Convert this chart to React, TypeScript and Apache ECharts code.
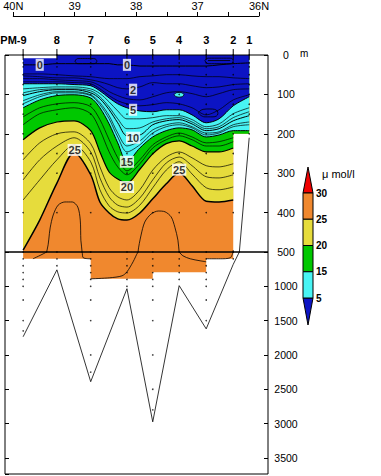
import React, { useEffect, useRef } from 'react';
import * as echarts from 'echarts';

// ---------------- data ----------------
const STATIONS = ['PM-9', '8', '7', '6', '5', '4', '3', '2', '1'];
const STATION_LAT = [39.84, 39.29, 38.74, 38.15, 37.73, 37.3, 36.86, 36.42, 36.16];
const BOTTOM_DEPTH = [1735, 760, 2390, 1035, 2975, 990, 1620, 680, 210];
const SAMPLE_MAX = [1500, 700, 2000, 1000, 2500, 900, 1500, 600, 200];
const NEAR_BOTTOM = [1650, null, 2250, null, 2800, null, null, null, null];
const STD_DEPTHS = [0, 10, 20, 30, 50, 75, 100, 125, 150, 200, 250, 300, 400, 500, 600, 700, 800, 900, 1000, 1200, 1500, 2000, 2500];

const LAT_TICK_VALUES = [36, 37, 38, 39, 40];
const LAT_TICK_TEXT = ['36N', '37', '38', '39', '40N'];

// contour nodes (latitude) and contour depths (m) at each node
const NODE_LAT = [39.84, 39.57, 39.29, 39.01, 38.74, 38.59, 38.44, 38.3, 38.15, 37.94, 37.73, 37.51, 37.3, 37.09, 36.86, 36.65, 36.42, 36.16];
const C0 = [25, 25, 22, 22, 22, 22, 22, 25, 25, 28, 28, 28, 28, 28, 28, 25, 22, 20];
const C1 = [48, 48, 50, 53, 55, 58, 60, 60, 60, 55, 53, 50, 50, 53, 55, 55, 58, 60];
const C2 = [53, 55, 58, 58, 63, 68, 75, 83, 86, 81, 70, 73, 73, 78, 83, 81, 75, 73];
const C3 = [60, 60, 63, 65, 68, 78, 93, 103, 111, 114, 106, 96, 93, 98, 106, 98, 88, 86];
const C4 = [68, 68, 68, 70, 73, 86, 103, 116, 124, 129, 126, 121, 124, 134, 152, 139, 114, 101];
const C5 = [73, 73, 73, 75, 78, 91, 109, 124, 134, 142, 144, 139, 139, 152, 172, 162, 129, 106];
const C7 = [86, 83, 81, 81, 86, 98, 119, 142, 162, 162, 159, 154, 154, 164, 182, 175, 149, 134];
const C9 = [96, 88, 86, 86, 91, 106, 132, 162, 187, 185, 170, 162, 159, 170, 187, 182, 159, 144];
const C10 = [103, 93, 88, 88, 96, 111, 139, 172, 205, 203, 177, 167, 164, 175, 192, 187, 167, 154];
const C12 = [116, 101, 93, 93, 101, 121, 154, 198, 231, 218, 190, 177, 172, 182, 198, 195, 177, 170];
const C13 = [124, 106, 96, 96, 103, 126, 162, 208, 246, 228, 198, 182, 177, 185, 203, 198, 182, 177];
const C15 = [134, 114, 103, 101, 109, 134, 175, 223, 271, 236, 208, 192, 185, 190, 208, 203, 192, 192];
const C17 = [157, 134, 124, 121, 131, 164, 215, 261, 294, 266, 228, 208, 198, 208, 223, 220, 210, null];
const C18 = [177, 149, 139, 134, 149, 190, 246, 284, 304, 276, 236, 215, 205, 215, 231, 231, 220, null];
const C20 = [215, 185, 170, 167, 192, 246, 297, 315, 325, 290, 251, 225, 218, 231, 246, 246, 236, null];
const C22 = [266, 223, 200, 195, 225, 284, 337, 360, 368, 342, 292, 259, 246, 261, 281, 284, 276, null];
const C23 = [317, 266, 231, 210, 246, 312, 360, 381, 386, 363, 317, 274, 259, 281, 309, 312, 304, null];
const C24 = [368, 317, 266, 228, 271, 342, 383, 398, 401, 381, 337, 292, 271, 302, 337, 342, 335, null];
const C25 = [495, 419, 325, 248, 304, 373, 401, 416, 419, 401, 365, 327, 299, 332, 371, 373, 368, null];

// 26 umol/l contour pieces [lat, depth]
const C26_A = [[39.68, 599], [39.45, 495], [39.4, 439], [39.35, 406], [39.27, 381], [39.16, 373], [39.04, 373], [38.95, 386], [38.91, 419], [38.9, 470], [38.88, 500], [38.86, 585], [38.74, 599]];
const C26_B = [[38.74, 891], [38.43, 876], [38.23, 847], [38.15, 789], [38.05, 643], [37.97, 500], [37.92, 457], [37.86, 424], [37.76, 404], [37.64, 396], [37.53, 398], [37.43, 411], [37.37, 437], [37.32, 470], [37.3, 500], [37.24, 555], [37.12, 599], [36.96, 628], [36.86, 643]];
const C26_C = [[36.86, 599], [36.63, 599], [36.47, 585], [36.42, 495]];

// closed small contours
const EYE = [[37.384, 101], [37.352, 96], [37.3, 95], [37.25, 96], [37.22, 101], [37.25, 106], [37.3, 107], [37.352, 106], [37.384, 101]];
const LOOP_C = [[36.99, 147], [36.91, 138], [36.8, 137], [36.68, 142], [36.67, 149], [36.75, 157], [36.88, 157], [36.99, 147]];
const LOOP_A = [[38.995, 16], [38.95, 9], [38.69, 9], [38.64, 16], [38.69, 22], [38.95, 22], [38.995, 16]];
const LOOP_B = [[36.88, 14], [36.83, 8], [36.47, 8], [36.42, 14], [36.47, 22], [36.83, 22], [36.88, 14]];
const LOOP_B_IN = [[36.83, 14], [36.47, 14]];

// data region outlines [lat, depth]
const REGION_UPPER = [[39.84, 8], [39.29, 8], [39.29, 0], [36.16, 0], [36.16, 200], [36.42, 200], [36.42, 500], [39.84, 500]];
const REGION_LOWER = [[39.84, 500], [36.42, 500], [36.42, 600], [36.86, 600], [36.86, 795], [37.73, 795], [37.73, 890], [38.74, 890], [38.74, 600], [39.84, 600]];
const SHELF = [[36.42, 0], [36.16, 0], [36.16, 200], [36.42, 200]];
const TOP_GAP = [[39.84, 0], [39.29, 0], [39.29, 8], [39.84, 8]];

// contour labels
const CLABEL_LAT = [39.57, 38.15, 38.05, 38.05, 38.05, 38.15, 38.15, 39.0, 37.3];
const CLABEL_DEPTH = [25, 25, 88, 139, 210, 271, 335, 241, 291];
const CLABEL_TEXT = ['0', '0', '2', '5', '10', '15', '20', '25', '25'];

// legend
const LEGEND_LEVELS = [30, 25, 20, 15, 5];
const BLUE = '#0c14c4';
const CYAN = '#48f4f4';
const GREEN = '#00c800';
const YELLOW = '#e6dc3c';
const ORANGE = '#f0882e';
const RED = '#f00000';
const LEGEND_FILLS = [ORANGE, YELLOW, GREEN, CYAN];

// ---------------- chart ----------------
const FONT = 'Liberation Sans';
const X_MIN = 35.854;
const X_MAX = 40.135;
const SMOOTH = 0.3;

const pts = (arr: (number | null)[]) =>
  NODE_LAT.map((x, i) => [x, arr[i]]).filter((p) => p[1] != null) as number[][];

function polygon(points: number[][], fill: string, grid: number, stroke = 'none', z = 1) {
  return {
    type: 'custom',
    xAxisIndex: grid,
    yAxisIndex: grid === 0 ? 0 : 2,
    data: [[points[0][0], points[0][1]]],
    silent: true,
    clip: true,
    z,
    renderItem: (_p: any, api: any) => ({
      type: 'polygon',
      shape: { points: points.map((q) => api.coord(q)) },
      style: { fill, stroke, lineWidth: 0.8 },
    }),
  };
}

function fillArea(arr: (number | null)[], color: string) {
  return {
    type: 'line',
    xAxisIndex: 0,
    yAxisIndex: 0,
    data: pts(arr),
    smooth: SMOOTH,
    symbol: 'none',
    silent: true,
    z: 1,
    lineStyle: { width: 0, opacity: 0 },
    areaStyle: { color, opacity: 1 },
  };
}

function line(data: number[][], width: number, grid = 0, smooth: number | boolean = SMOOTH) {
  return {
    type: 'line',
    xAxisIndex: grid,
    yAxisIndex: grid === 0 ? 0 : 2,
    data,
    smooth,
    symbol: 'none',
    silent: true,
    clip: true,
    z: 3,
    lineStyle: { color: '#000', width },
  };
}

function buildOption() {
  const dotsUpper: number[][] = [];
  const dotsLower: number[][] = [];
  STATION_LAT.forEach((lat, i) => {
    const ds = STD_DEPTHS.filter((d) => d <= SAMPLE_MAX[i]);
    if (NEAR_BOTTOM[i] != null) ds.push(NEAR_BOTTOM[i] as number);
    ds.forEach((d) => {
      if (d <= 500) dotsUpper.push([lat, d]);
      else dotsLower.push([lat, d]);
    });
  });

  const topo = STATION_LAT.map((lat, i) => [lat, BOTTOM_DEPTH[i]]);

  const series: any[] = [
    polygon(REGION_UPPER, ORANGE, 0),
    polygon(REGION_LOWER, ORANGE, 1),
    fillArea(C25, YELLOW),
    fillArea(C20, GREEN),
    polygon(SHELF, GREEN, 0),
    fillArea(C15, CYAN),
    fillArea(C5, BLUE),
    polygon(TOP_GAP, '#ffffff', 0),
    polygon(EYE, CYAN, 0, '#000', 3),
  ];

  [C1, C2, C3, C4, C7, C9, C12, C13, C17, C18, C22, C23, C24].forEach((c) => series.push(line(pts(c), 0.7)));
  [C0, C5, C10, C15].forEach((c) => series.push(line(pts(c), 1.0)));
  series.push(line(pts(C20), 1.2));
  series.push(line(pts(C25), 1.5));
  [LOOP_C, LOOP_A, LOOP_B].forEach((c) => series.push(line(c, 0.8, 0, 0.5)));
  series.push(line(LOOP_B_IN, 0.8, 0, false));
  [C26_A, C26_B, C26_C].forEach((c) => {
    series.push(line(c, 0.8, 0));
    series.push(line(c, 0.8, 1));
  });
  series.push(line(topo, 0.8, 0, false));
  series.push(line(topo, 0.8, 1, false));

  series.push({
    type: 'scatter', xAxisIndex: 0, yAxisIndex: 0, data: dotsUpper, symbolSize: 1.6,
    itemStyle: { color: '#000' }, silent: true, z: 4,
  });
  series.push({
    type: 'scatter', xAxisIndex: 1, yAxisIndex: 2, data: dotsLower, symbolSize: 1.6,
    itemStyle: { color: '#000' }, silent: true, z: 4,
  });

  series.push({
    type: 'scatter',
    xAxisIndex: 0,
    yAxisIndex: 0,
    data: CLABEL_LAT.map((lat, i) => [lat, CLABEL_DEPTH[i], CLABEL_TEXT[i]]),
    symbolSize: 1,
    itemStyle: { color: 'rgba(0,0,0,0)' },
    silent: true,
    z: 6,
    label: {
      show: true,
      position: 'inside',
      formatter: (p: any) => p.data[2],
      backgroundColor: '#fff',
      padding: [1, 1, 0, 1],
      color: '#000',
      fontFamily: FONT,
      fontWeight: 'bold',
      fontSize: 11,
    },
  });

  series.push({
    type: 'custom',
    xAxisIndex: 0,
    yAxisIndex: 0,
    data: STATION_LAT.map((lat, i) => [lat, 0, i]),
    clip: false,
    silent: true,
    z: 6,
    renderItem: (_p: any, api: any) => {
      const lat = api.value(0);
      const name = STATIONS[api.value(2)];
      const p = api.coord([lat, 0]);
      const isPM = name.indexOf('-') >= 0;
      return {
        type: 'group',
        children: [
          { type: 'line', shape: { x1: p[0], y1: p[1] - 6, x2: p[0], y2: p[1] + 3 }, style: { stroke: '#000', lineWidth: 1 } },
          {
            type: 'text',
            style: {
              text: name,
              x: isPM ? p[0] + 3.5 : p[0],
              y: p[1] - 15,
              textAlign: isPM ? 'right' : 'center',
              align: isPM ? 'right' : 'center',
              textVerticalAlign: 'middle',
              verticalAlign: 'middle',
              font: `bold 11px "${FONT}"`,
              fill: '#000',
            },
          },
        ],
      };
    },
  });

  // legend graphics
  const bx = 303, bw = 10, by = 193, sh = 26.25;
  const graphic: any[] = [
    { type: 'polygon', shape: { points: [[bx, by], [bx + bw, by], [bx + bw / 2, by - 26]] }, style: { fill: RED, stroke: '#000', lineWidth: 1 } },
    { type: 'polygon', shape: { points: [[bx, by + 4 * sh], [bx + bw, by + 4 * sh], [bx + bw / 2, by + 4 * sh + 27]] }, style: { fill: BLUE, stroke: '#000', lineWidth: 1 } },
  ];
  LEGEND_FILLS.forEach((c, i) => {
    graphic.push({ type: 'rect', shape: { x: bx, y: by + i * sh, width: bw, height: sh }, style: { fill: c, stroke: '#000', lineWidth: 1 } });
  });
  LEGEND_LEVELS.forEach((lv, i) => {
    graphic.push({
      type: 'text', x: 316, y: by + i * sh,
      style: { text: String(lv), font: `bold 10px "${FONT}"`, fill: '#000', textVerticalAlign: 'middle', verticalAlign: 'middle' },
    });
  });
  graphic.push({
    type: 'text', x: 322, y: 174,
    style: { text: 'μ mol/l', font: `11px "${FONT}"`, fill: '#000', textVerticalAlign: 'middle', verticalAlign: 'middle' },
  });
  graphic.push({
    type: 'text', x: 300, y: 53,
    style: { text: 'm', font: `10px "${FONT}"`, fill: '#000', textVerticalAlign: 'middle', verticalAlign: 'middle' },
  });

  const depthLabel = {
    show: true, align: 'center', margin: 18, color: '#000', fontFamily: FONT, fontSize: 10.5,
    formatter: (v: number) => String(v),
  };
  const tick = { show: true, inside: true, length: 4, lineStyle: { color: '#000', width: 1 } };

  return {
    animation: false,
    backgroundColor: '#fff',
    graphic,
    grid: [
      { left: 5, top: 55, width: 263, height: 197, show: true, borderColor: '#000', borderWidth: 1, z: 2 },
      { left: 5, top: 252, width: 263, height: 222, show: true, borderColor: '#000', borderWidth: 1, z: 2 },
      { left: 13.3, top: 15, width: 245.7, height: 1 },
    ],
    xAxis: [
      { gridIndex: 0, type: 'value', min: X_MIN, max: X_MAX, inverse: true, show: false },
      { gridIndex: 1, type: 'value', min: X_MIN, max: X_MAX, inverse: true, show: false },
      {
        gridIndex: 2, type: 'value', min: 36, max: 40, interval: 0.5, inverse: true, position: 'top',
        axisLine: { show: true, lineStyle: { color: '#000', width: 1 } },
        axisTick: { show: true, inside: false, length: 4, lineStyle: { color: '#000' } },
        splitLine: { show: false },
        axisLabel: {
          show: true, margin: 4, color: '#000', fontFamily: FONT, fontSize: 11,
          formatter: (v: number) => {
            const k = LAT_TICK_VALUES.indexOf(v);
            return k >= 0 ? LAT_TICK_TEXT[k] : '';
          },
        },
      },
    ],
    yAxis: [
      {
        gridIndex: 0, type: 'value', min: 0, max: 500, interval: 100, inverse: true, position: 'right',
        axisLine: { show: false }, axisTick: tick, splitLine: { show: false }, axisLabel: depthLabel,
      },
      {
        gridIndex: 0, type: 'value', min: 0, max: 500, interval: 100, inverse: true, position: 'left',
        axisLine: { show: false }, axisTick: tick, splitLine: { show: false }, axisLabel: { show: false },
      },
      {
        gridIndex: 1, type: 'value', min: 500, max: 3735, interval: 500, inverse: true, position: 'right',
        axisLine: { show: false }, axisTick: tick, splitLine: { show: false },
        axisLabel: { ...depthLabel, showMinLabel: false, showMaxLabel: false },
      },
      {
        gridIndex: 1, type: 'value', min: 500, max: 3735, interval: 500, inverse: true, position: 'left',
        axisLine: { show: false }, axisTick: tick, splitLine: { show: false }, axisLabel: { show: false },
      },
      { gridIndex: 2, type: 'value', show: false, min: 0, max: 1 },
    ],
    series,
  };
}

export default function App() {
  const ref = useRef<HTMLDivElement>(null);
  useEffect(() => {
    const chart = echarts.init(ref.current as HTMLDivElement, null, { renderer: 'svg' });
    chart.setOption(buildOption() as any);
    return () => chart.dispose();
  }, []);
  return (
    <div
      ref={ref}
      style={{ position: 'fixed', left: 0, top: 0, width: 381, height: 476, background: '#fff' }}
    />
  );
}
